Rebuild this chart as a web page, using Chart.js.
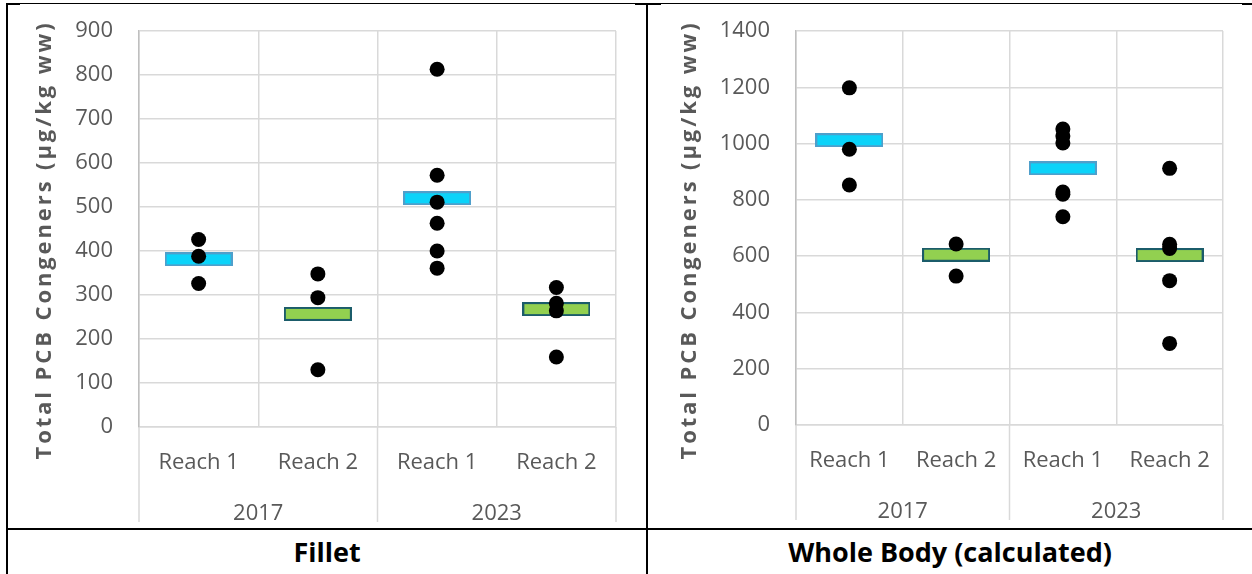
<!DOCTYPE html>
<html>
<head>
<meta charset="utf-8">
<script src="https://cdn.jsdelivr.net/npm/chart.js@4/dist/chart.umd.min.js"></script>
<style>
  html, body { margin: 0; padding: 0; background: #fff; }
  body { width: 1252px; height: 574px; position: relative; overflow: hidden; font-family: "Open Sans", sans-serif; }
  .rule { position: absolute; background: #000; }
  .panel { position: absolute; top: 4px; }
  .caption { position: absolute; top: 530px; height: 44px; line-height: 44px; text-align: center;
             font-weight: bold; font-size: 27px; color: #000; }
</style>
</head>
<body>
  <!-- table frame -->
  <div class="rule" style="left:6px; top:3px; width:1246px; height:1px;"></div>
  <div class="rule" style="left:6px; top:3px; width:14px; height:2px;"></div>
  <div class="rule" style="left:635px; top:3px; width:26px; height:2px;"></div>
  <div class="rule" style="left:1242px; top:3px; width:10px; height:2px;"></div>
  <div class="rule" style="left:6px; top:3px; width:2px; height:571px;"></div>
  <div class="rule" style="left:646px; top:3px; width:2px; height:571px;"></div>
  <div class="rule" style="left:6px; top:528px; width:1246px; height:2px;"></div>

  <canvas id="fillet" class="panel" width="638" height="524" style="left:8px;"></canvas>
  <canvas id="whole" class="panel" width="604" height="524" style="left:648px;"></canvas>

  <div class="caption" style="left:8px; width:638px;">Fillet</div>
  <div class="caption" style="left:648px; width:604px;">Whole Body (calculated)</div>

<script>
// Category layout: reach within sampling year
const categories = ['Reach 1', 'Reach 2', 'Reach 1', 'Reach 2'];
const years = ['2017', '2023'];
const yTitle = 'Total PCB Congeners (µg/kg ww)';

// Fillet samples, µg/kg ww (one array per category, in category order)
const filletReach1_2017 = [426, 388, 326];
const filletReach2_2017 = [348, 294, 130];
const filletReach1_2023 = [813, 572, 511, 463, 400, 361];
const filletReach2_2023 = [317, 281, 264, 159];
const filletMeans = [381, 257, 520, 268];

// Whole body (calculated) samples, µg/kg ww
const wholeReach1_2017 = [1198, 980, 853];
const wholeReach2_2017 = [643, 529];
const wholeReach1_2023 = [1052, 1027, 1002, 828, 820, 740];
const wholeReach2_2023 = [912, 642, 627, 513, 290];
const wholeMeans = [1012, 605, 912, 604];

// Value axis ranges
const filletAxis = { max: 900, step: 100 };
const wholeAxis = { max: 1400, step: 200 };

const TEXT = '#595959';
const GRID = '#D9D9D9';

// Mean marker: a flat filled rectangle used as a point style
function meanMarker(fill, stroke) {
  const c = document.createElement('canvas');
  c.width = 68; c.height = 14;
  const g = c.getContext('2d');
  g.fillStyle = fill;
  g.fillRect(0, 0, c.width, c.height);
  g.strokeStyle = stroke;
  g.lineWidth = 2;
  g.strokeRect(1, 1, c.width - 2, c.height - 2);
  return c;
}
const reach1Marker = meanMarker('#0BD3F9', '#4F9FCB');
const reach2Marker = meanMarker('#92D050', '#1B5C6A');

function samplePoints(groups) {
  return groups.flatMap((vals, i) => vals.map(v => ({ x: i + 0.5, y: v })));
}
function meanPoints(means, parity) {
  return means.map((v, i) => ({ x: i + 0.5, y: v })).filter((p, i) => i % 2 === parity);
}

// Two-level category labels under the plot, with year separators
const categoryAxis = {
  id: 'categoryAxis',
  afterDraw(chart, args, opts) {
    const { ctx, chartArea: a, scales: { x } } = chart;
    ctx.save();
    ctx.fillStyle = TEXT;
    ctx.textAlign = 'center';
    ctx.textBaseline = 'middle';
    ctx.font = '22px "Open Sans"';
    categories.forEach((c, i) => ctx.fillText(c, x.getPixelForValue(i + 0.5), a.bottom + opts.reachOffset));
    years.forEach((yr, g) => ctx.fillText(yr, x.getPixelForValue(g * 2 + 1), a.bottom + opts.yearOffset));
    ctx.strokeStyle = GRID;
    ctx.lineWidth = 1.5;
    for (let g = 0; g <= years.length; g++) {
      const px = x.getPixelForValue(g * 2);
      ctx.beginPath();
      ctx.moveTo(px, a.bottom);
      ctx.lineTo(px, a.bottom + opts.separatorLength);
      ctx.stroke();
    }
    ctx.restore();
  }
};

// Rotated value-axis title
const valueTitle = {
  id: 'valueTitle',
  afterDraw(chart, args, opts) {
    const { ctx } = chart;
    ctx.save();
    ctx.translate(opts.x, opts.y);
    ctx.rotate(-Math.PI / 2);
    ctx.fillStyle = TEXT;
    ctx.textAlign = 'center';
    ctx.textBaseline = 'middle';
    ctx.font = 'bold 22px "Open Sans"';
    ctx.letterSpacing = '2.9px';
    ctx.fillText(yTitle, 0, 0);
    ctx.restore();
  }
};

function buildChart(id, groups, means, axis, geom) {
  return new Chart(document.getElementById(id), {
    type: 'scatter',
    data: {
      datasets: [
        { label: 'Samples', data: samplePoints(groups), backgroundColor: '#000', borderColor: '#000',
          borderWidth: 0, pointRadius: 7.5, pointHoverRadius: 7.5, order: 0 },
        { label: 'Reach 1 mean', data: meanPoints(means, 0), pointStyle: reach1Marker, pointRadius: 5, order: 1 },
        { label: 'Reach 2 mean', data: meanPoints(means, 1), pointStyle: reach2Marker, pointRadius: 5, order: 1 }
      ]
    },
    options: {
      responsive: false,
      animation: false,
      devicePixelRatio: 1,
      layout: { padding: { top: geom.top, right: geom.right, left: 0, bottom: 0 } },
      plugins: {
        legend: { display: false },
        tooltip: { enabled: false },
        categoryAxis: { reachOffset: 36, yearOffset: 87, separatorLength: 95 },
        valueTitle: { x: geom.titleX, y: geom.titleY }
      },
      scales: {
        x: {
          type: 'linear', min: 0, max: categories.length,
          ticks: { display: false, stepSize: 1 },
          grid: { color: GRID, lineWidth: 1.5, drawTicks: false },
          border: { display: true, color: GRID, width: 1.5 },
          afterFit(s) { s.height = geom.bottom; }
        },
        y: {
          min: 0, max: axis.max,
          ticks: { stepSize: axis.step, color: TEXT, font: { family: 'Open Sans', size: 22 }, padding: 0,
                   callback: v => String(v) },
          // invisible tick marks keep the labels clear of the axis line
          grid: { color: GRID, lineWidth: 1.5, drawTicks: true, tickLength: 26, tickColor: 'rgba(0,0,0,0)' },
          border: { color: '#BFBFBF', width: 1.5 },
          afterFit(s) { s.width = geom.left; }
        }
      }
    },
    plugins: [categoryAxis, valueTitle]
  });
}

buildChart('fillet',
  [filletReach1_2017, filletReach2_2017, filletReach1_2023, filletReach2_2023],
  filletMeans, filletAxis,
  { left: 131, right: 30, top: 27, bottom: 101, titleX: 37, titleY: 236 });

buildChart('whole',
  [wholeReach1_2017, wholeReach2_2017, wholeReach1_2023, wholeReach2_2023],
  wholeMeans, wholeAxis,
  { left: 148, right: 29, top: 27, bottom: 103, titleX: 42, titleY: 236 });
</script>
</body>
</html>
